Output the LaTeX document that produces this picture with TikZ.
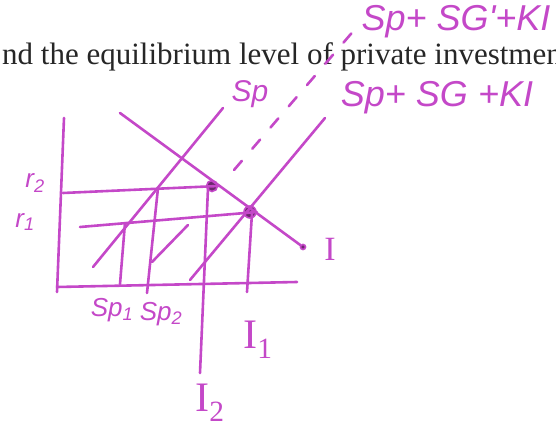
\documentclass[tikz,border=0pt]{standalone}
\usepackage{fontspec}
\setmainfont{Liberation Serif}
\newfontfamily\handfont{Liberation Sans}
\definecolor{marker}{RGB}{196,72,200}
\pgfkeys{tikz/pen/.style={draw=marker,line width=2.6pt,line cap=round,line join=round}}
\pgfkeys{tikz/handtext/.style={text=marker,inner sep=0pt,font=\handfont\itshape\fontsize{26}{26}\selectfont}}
\pgfkeys{tikz/bigI/.style={text=marker,inner sep=0pt,font=\fontsize{42}{42}\selectfont}}
\pgfkeys{tikz/dot/.style={circle,draw=marker,fill=marker!55!black,line width=1.6pt,inner sep=0pt,minimum size=#1}}

\begin{document}
\begin{tikzpicture}[x=1pt,y=-1pt]
\useasboundingbox (0,0) rectangle (556,427);
\clip (0,0) rectangle (556,427);

\node[anchor=base west,inner sep=0pt,text=black!85,font=\fontsize{31}{36}\selectfont] (question) at (2,65) {nd the equilibrium level of private investment};

% axes
\coordinate (ytop) at (64,118);
\coordinate (ybot) at (57,292);
\coordinate (xleft) at (57,287);
\coordinate (xright) at (297,282);
\draw[pen] (ytop) -- (ybot);
\draw[pen] (xleft) -- (xright);

% equilibrium points
\node[dot=11pt] (e2) at (212,186) {};
\node[dot=12pt] (e1) at (250,212) {};
\node[dot=5pt] (iend) at (303,247) {};

% curves
\coordinate (itop) at (120,113);
\coordinate (spa) at (93,267);
\coordinate (spb) at (223,108);
\coordinate (dsa) at (234,170);
\coordinate (dsb) at (356,28);
\coordinate (kia) at (190,280);
\coordinate (kib) at (325,118);
\coordinate (sega) at (152,262);
\coordinate (segb) at (188,225);
\draw[pen] (itop) -- (iend);
\draw[pen] (spa) -- (spb);
\draw[pen,dash pattern=on 12pt off 16pt] (dsa) -- (dsb);
\draw[pen] (kia) -- (kib);
\draw[pen] (sega) -- (segb);

% levels
\coordinate (r2a) at (63,193);
\coordinate (r1a) at (80,227);
\draw[pen] (r2a) -- (e2.east);
\draw[pen] (r1a) -- (e1.east);

\coordinate (sp1top) at (125,223);
\coordinate (sp1bot) at (120,284);
\coordinate (sp2top) at (158,188);
\coordinate (sp2bot) at (147,293);
\coordinate (i2top) at (208,188);
\coordinate (i2bot) at (200,373);
\coordinate (i1top) at (252,213);
\coordinate (i1bot) at (247,292);
\draw[pen] (sp1top) -- (sp1bot);
\draw[pen] (sp2top) -- (sp2bot);
\draw[pen] (i2top) -- (i2bot);
\draw[pen] (i1top) -- (i1bot);

% labels
\node[handtext] (r2) at (35,183) {r\textsubscript{2}};
\node[handtext] (r1) at (25,222) {r\textsubscript{1}};
\node[handtext] (sp1) at (112,310) {Sp\textsubscript{1}};
\node[handtext] (sp2) at (161,314) {Sp\textsubscript{2}};
\node[handtext,font=\handfont\itshape\fontsize{30}{30}\selectfont] (splab) at (250,94) {Sp};
\node[handtext,font=\handfont\itshape\fontsize{36}{36}\selectfont] (kilab) at (437,98) {Sp+ SG +KI};
\node[handtext,font=\handfont\itshape\fontsize{36}{36}\selectfont] (kiplab) at (456,22) {Sp+ SG'+KI};
\node[bigI,font=\fontsize{34}{34}\selectfont] (ilab) at (330,249) {I};
\node[bigI,anchor=base] (i1) at (258,348) {I\textsubscript{1}};
\node[bigI,anchor=base] (i2) at (210,411) {I\textsubscript{2}};

\end{tikzpicture}
\end{document}
